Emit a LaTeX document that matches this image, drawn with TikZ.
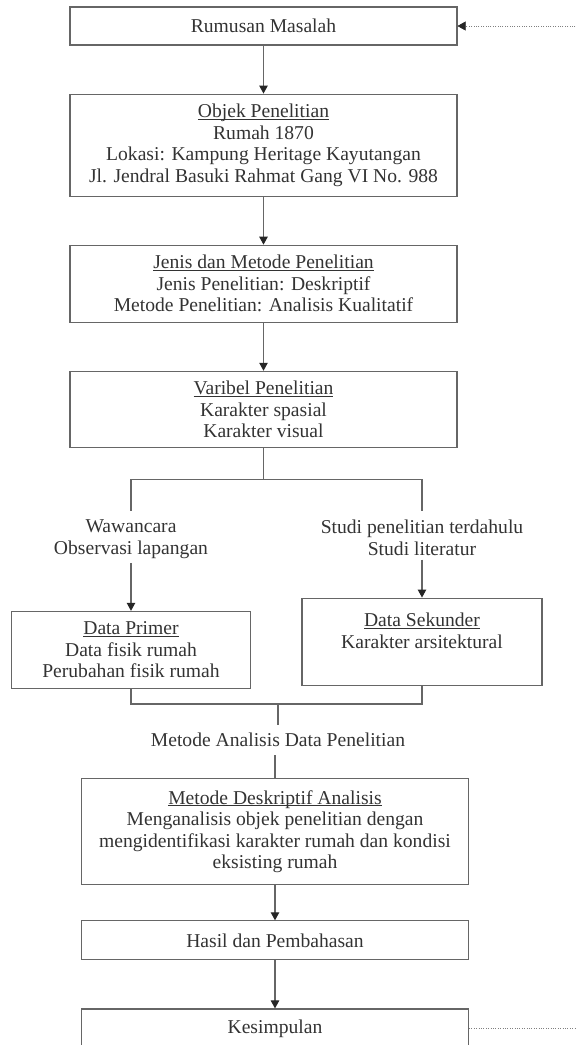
\documentclass[tikz,border=0pt]{standalone}
\usepackage{fontspec}
\setmainfont{Liberation Serif}
\usetikzlibrary{arrows.meta,positioning}

\begin{document}
\begin{tikzpicture}[
  x=1pt, y=-1pt,
  font=\fontsize{19.6}{21.5}\selectfont,
  text=black!80,
  box/.style={draw=black!60, line width=1.1pt, align=center, minimum width=387pt, inner sep=2pt},
  half/.style={box, minimum width=240pt},
  plain/.style={align=center, inner sep=4pt},
  line/.style={draw=black!60, line width=1.1pt},
  arrow/.style={line, -{Triangle[width=8.5pt,length=8pt,color=black!85,fill=black!85]}},
  back/.style={draw=black!50, line width=0.9pt, dash pattern=on 1pt off 1.4pt,
    -{Triangle[width=9pt,length=8pt,color=black!85,fill=black!85,line width=0.5pt]}}
]
\useasboundingbox (0,0) rectangle (576,1045);
\clip (0,0) rectangle (576,1045);

% main column
\node[box, minimum height=38pt] (rumusan) at (263.5,26) {Rumusan Masalah};
\node[box, minimum height=102pt, below=48pt of rumusan] (objek)
  {\underbar{Objek Penelitian}\\Rumah 1870\\Lokasi: Kampung Heritage Kayutangan\\Jl. Jendral Basuki Rahmat Gang VI No. 988};
\node[box, minimum height=77pt, below=48pt of objek] (jenis)
  {\underbar{Jenis dan Metode Penelitian}\\Jenis Penelitian: Deskriptif\\Metode Penelitian: Analisis Kualitatif};
\node[box, minimum height=76pt, below=48pt of jenis] (varibel)
  {\underbar{Varibel Penelitian}\\Karakter spasial\\Karakter visual};

\draw[arrow] (rumusan) -- (objek);
\draw[arrow] (objek) -- (jenis);
\draw[arrow] (jenis) -- (varibel);

% data collection
\node[plain, below=68pt of varibel.south, xshift=-132.5pt] (wawancara) {Wawancara\\Observasi lapangan};
\node[plain, below=68pt of varibel.south, xshift=158.5pt] (studi) {Studi penelitian terdahulu\\Studi literatur};
\node[half, minimum width=239pt, minimum height=77pt, below=48pt of wawancara] (primer)
  {\underbar{Data Primer}\\Data fisik rumah\\Perubahan fisik rumah};
\node[half, minimum height=87pt, below=38pt of studi] (sekunder)
  {\underbar{Data Sekunder}\\Karakter arsitektural\\~};

\draw[line, shorten >=5pt] (varibel.south) -- ++(0,32) -| (wawancara.north);
\draw[line, shorten >=5pt] (varibel.south) -- ++(0,32) -| (studi.north);
\draw[arrow] (wawancara) -- (primer);
\draw[arrow] (studi) -- (sekunder);

% analysis
\coordinate (merge) at (278,704);
\node[plain, inner sep=8pt, below=21pt of merge] (analisis) {Metode Analisis Data Penelitian};
\node[box, minimum height=106pt, below=23pt of analisis, xshift=-3pt] (deskriptif)
  {\underbar{Metode Deskriptif Analisis}\\Menganalisis objek penelitian dengan\\mengidentifikasi karakter rumah dan kondisi\\eksisting rumah};
\node[box, minimum height=39pt, below=35pt of deskriptif] (hasil) {Hasil dan Pembahasan};
\node[box, minimum height=39pt, below=48pt of hasil] (kesimpulan) {Kesimpulan};

\draw[line] (primer.south) |- (merge) -| (sekunder.south);
\draw[line] (merge) -- (analisis.north);
\draw[line] (analisis.south -| deskriptif.north) -- (deskriptif.north);
\draw[arrow] (deskriptif) -- (hasil);
\draw[arrow] (hasil) -- (kesimpulan);

% feedback loop
\draw[back] (kesimpulan.east) -- ++(200,0) |- (rumusan.east);

\end{tikzpicture}
\end{document}
